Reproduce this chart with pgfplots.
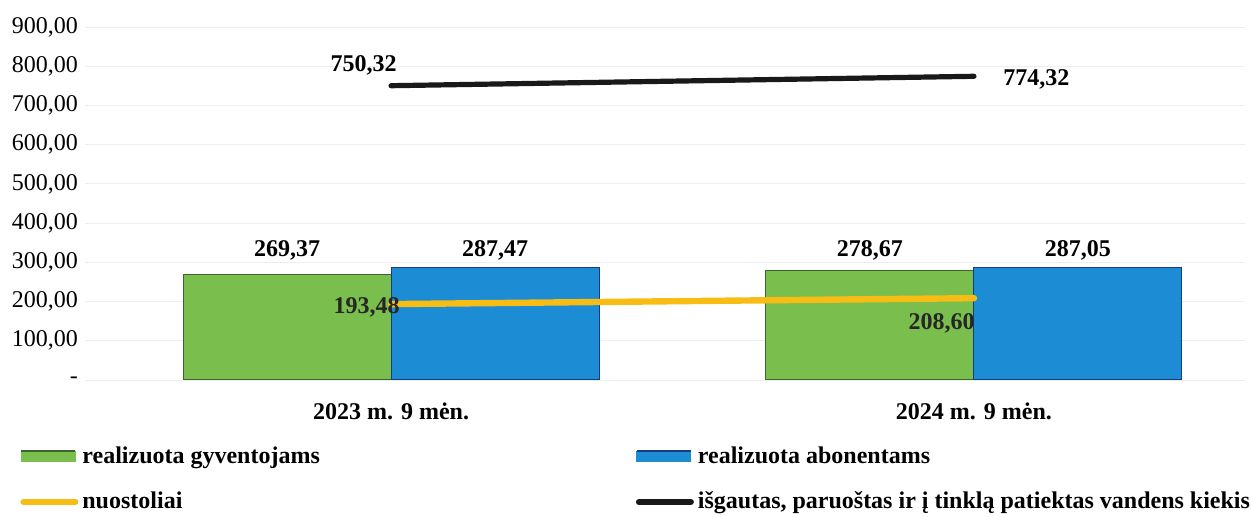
\documentclass[border=0pt]{standalone}
\usepackage{fontspec}
\setmainfont{Liberation Serif}
\usepackage{pgfplots}
\pgfplotsset{compat=1.18}
\definecolor{cgreen}{RGB}{122,190,78}
\definecolor{cgreenE}{RGB}{60,100,45}
\definecolor{cblue}{RGB}{28,140,212}
\definecolor{cblueE}{RGB}{20,60,130}
\definecolor{corange}{RGB}{247,189,20}
\definecolor{cblack}{RGB}{25,25,25}
\newcommand{\lsize}{\fontsize{12}{14.4}\selectfont}
\newcommand{\numfmt}[1]{\pgfmathprintnumber[assume math mode=true,fixed,fixed zerofill,precision=2,use comma,1000 sep={}]{#1}}
\begin{document}
\begin{tikzpicture}[font=\lsize]
\useasboundingbox (-42.5pt,-68.5pt) rectangle (583.5pt,190pt);
\begin{axis}[
  at={(0,0)}, anchor=south west,
  scale only axis, width=580pt, height=176.5pt,
  xmin=-0.525, xmax=1.465, ymin=0, ymax=900,
  xtick={0,1}, xticklabels={2023 m. 9 mėn., 2024 m. 9 mėn.},
  xticklabel style={font=\lsize\bfseries, yshift=-8pt},
  ytick={0,100,200,300,400,500,600,700,800,900},
  yticklabels={{-\hspace{11pt}},{100,00},{200,00},{300,00},{400,00},{500,00},{600,00},{700,00},{800,00},{900,00}},
  yticklabel style={font=\lsize},
  axis line style={draw=none},
  major tick length=0pt,
  ymajorgrids, major grid style={gray!13, line width=0.4pt},
  legend columns=2,
  legend style={at={(0,0)}, anchor=north west, xshift=-32.5pt, yshift=-31pt,
    draw=none, fill=none, inner sep=0pt, font=\lsize\bfseries,
    cells={anchor=west}, row sep=9pt,
    /tikz/every even column/.append style={column sep=156pt}},
]
\addplot[ybar, bar width=104pt, bar shift=-52pt, fill=cgreen, draw=cgreenE, line width=0.5pt,
  legend image code/.code={\fill[cgreen] (0pt,-2.5pt) rectangle (27pt,2.5pt); \draw[cgreenE,line width=0.8pt] (0pt,2.5pt)--(27pt,2.5pt);}]
  coordinates {(0,269.37) (1,278.67)};
\addlegendentry{realizuota gyventojams}
\addplot[ybar, bar width=104pt, bar shift=52pt, fill=cblue, draw=cblueE, line width=0.5pt,
  legend image code/.code={\fill[cblue] (0pt,-2.5pt) rectangle (27pt,2.5pt); \draw[cblueE,line width=0.8pt] (0pt,2.5pt)--(27pt,2.5pt);}]
  coordinates {(0,287.47) (1,287.05)};
\addlegendentry{realizuota abonentams}
\addplot[corange, line width=3.2pt, line cap=round, mark=none,
  legend image code/.code={\draw[corange,line width=3pt,line cap=round] (1pt,0pt)--(27pt,0pt);}]
  coordinates {(0,193.48) (1,208.60)};
\addlegendentry{nuostoliai}
\addplot[cblack, line width=2.6pt, line cap=round, mark=none,
  legend image code/.code={\draw[cblack,line width=3pt,line cap=round] (1pt,0pt)--(27pt,0pt);}]
  coordinates {(0,750.32) (1,774.32)};
\addlegendentry{išgautas, paruoštas ir į tinklą patiektas vandens kiekis}
% bar value labels
\addplot[draw=none, forget plot, mark=none, point meta=explicit,
  nodes near coords={\numfmt{\pgfplotspointmeta}},
  every node near coord/.append style={anchor=center, font=\lsize\bfseries}]
  coordinates {(-0.1784,331.5) [269.37] (0.1784,331.5) [287.47] (0.8216,331.5) [278.67] (1.1784,331.5) [287.05]};
% line value labels
\addplot[draw=none, forget plot, mark=none, point meta=explicit,
  nodes near coords={\numfmt{\pgfplotspointmeta}},
  every node near coord/.append style={anchor=south east, inner sep=0pt, xshift=3pt, yshift=5pt, font=\lsize\bfseries}]
  coordinates {(0,750.32) [750.32]};
\addplot[draw=none, forget plot, mark=none, point meta=explicit,
  nodes near coords={\numfmt{\pgfplotspointmeta}},
  every node near coord/.append style={anchor=west, inner sep=0pt, xshift=14.5pt, yshift=-1.5pt, font=\lsize\bfseries}]
  coordinates {(1,774.32) [774.32]};
\addplot[draw=none, forget plot, mark=none, point meta=explicit,
  nodes near coords={\numfmt{\pgfplotspointmeta}},
  every node near coord/.append style={anchor=east, inner sep=0pt, xshift=4.5pt, yshift=-1.5pt, text=black!85, font=\lsize\bfseries}]
  coordinates {(0,193.48) [193.48]};
\addplot[draw=none, forget plot, mark=none, point meta=explicit,
  nodes near coords={\numfmt{\pgfplotspointmeta}},
  every node near coord/.append style={anchor=north east, inner sep=0pt, xshift=0.5pt, yshift=-7.5pt, text=black!85, font=\lsize\bfseries}]
  coordinates {(1,208.60) [208.60]};
\end{axis}
\end{tikzpicture}
\end{document}
